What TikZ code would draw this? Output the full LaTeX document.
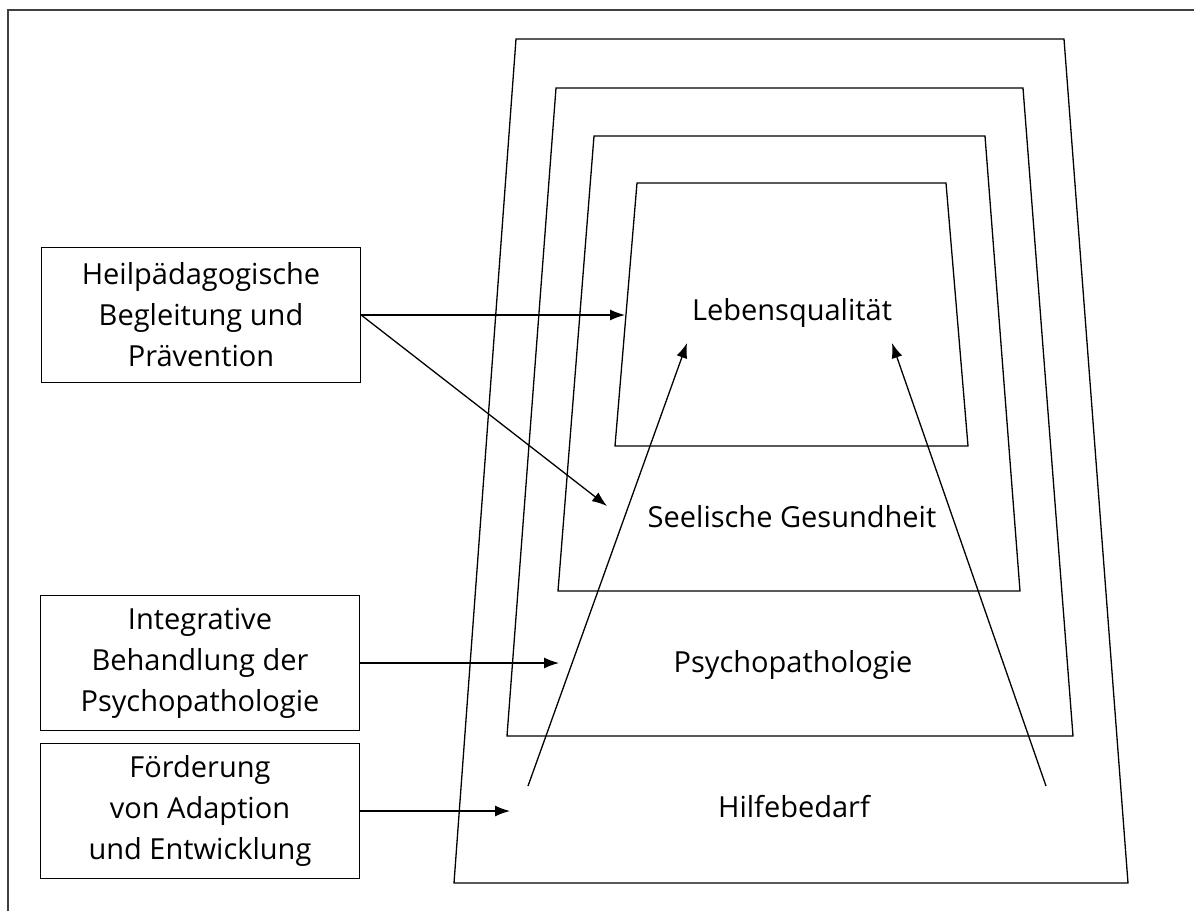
\documentclass[tikz,border=0pt]{standalone}
\usepackage{fontspec}
\setmainfont{Open Sans}
\usetikzlibrary{arrows.meta,positioning,calc}

\begin{document}
\begin{tikzpicture}[
    x=1pt, y=-1pt,
    box/.style={rectangle, draw, line width=1.3pt, minimum width=319pt, minimum height=135pt, inner sep=0pt, align=center, font=\fontsize{29}{41}\selectfont},
    level/.style={inner sep=0pt, font=\fontsize{29}{34}\selectfont},
    ring/.style={draw, line width=1.3pt},
    arrow/.style={-{Latex[length=15pt,width=11pt]}, line width=1.3pt}
]
    \useasboundingbox (0,0) rectangle (1194,911);
    \draw[line width=1.6pt, black!75] (8,911) -- (8,10) -- (1194,10);

    % nested layers
    \draw[ring] (516,39) -- (1064,39) -- (1128,883) -- (454,883) -- cycle;
    \draw[ring] (556,88) -- (1023,88) -- (1073,736) -- (507,736) -- cycle;
    \draw[ring] (594,136) -- (985,136) -- (1020,591) -- (558,591) -- cycle;
    \draw[ring] (637,183) -- (946,183) -- (968,446) -- (615,446) -- cycle;

    \node[level] (leben) at (792,313) {Lebensqualität};
    \node[level] (seele) at (792,517) {Seelische Gesundheit};
    \node[level] (psycho) at (793,665) {Psychopathologie};
    \node[level] (hilfe) at (794,807) {Hilfebedarf};

    % interventions
    \node[box] (heil) at (201,315) {Heilpädagogische\\Begleitung und\\Prävention};
    \node[box] (integ) at (200,663) {Integrative\\Behandlung der\\Psychopathologie};
    \node[box] (foerd) at (200,811) {Förderung\\von Adaption\\und Entwicklung};

    \coordinate (lebenIn) at (625,315);
    \coordinate (seeleIn) at (607,506);
    \coordinate (psychoIn) at (559,663);
    \coordinate (hilfeIn) at (510,811);
    \coordinate (upL) at (528,786);
    \coordinate (upLtip) at (687,343);
    \coordinate (upR) at (1046,786);
    \coordinate (upRtip) at (892,343);

    \draw[arrow] (heil.east) -- (lebenIn);
    \draw[arrow] (heil.east) -- (seeleIn);
    \draw[arrow] (integ.east) -- (psychoIn);
    \draw[arrow] (foerd.east) -- (hilfeIn);
    \draw[arrow] (upL) -- (upLtip);
    \draw[arrow] (upR) -- (upRtip);
\end{tikzpicture}
\end{document}
